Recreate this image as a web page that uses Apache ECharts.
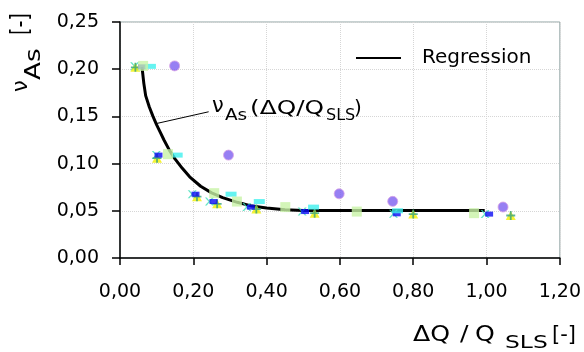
<!DOCTYPE html>
<html><head><meta charset="utf-8">
<script src="https://cdn.jsdelivr.net/npm/echarts@6/dist/echarts.min.js"></script>
<style>html,body{margin:0;padding:0;background:#fff}#c{width:584px;height:352px}</style>
</head><body><div id="c"></div>
<script>
// ---- data ----
const xTickLabels = ['0,00','0,20','0,40','0,60','0,80','1,00','1,20'];
const yTickLabels = ['0,00','0,05','0,10','0,15','0,20','0,25'];

const regressionX = [0.06, 0.065, 0.07, 0.08, 0.09, 0.10, 0.11, 0.12, 0.135, 0.15, 0.17, 0.19, 0.22, 0.25, 0.28, 0.32, 0.36, 0.40, 0.45, 0.50, 0.995];
const regressionY = [0.2025, 0.185, 0.172, 0.160, 0.150, 0.141, 0.133, 0.125, 0.114, 0.105, 0.095, 0.086, 0.076, 0.069, 0.064, 0.059, 0.055, 0.053, 0.051, 0.0503, 0.0503];

const purpleX = [0.149, 0.296, 0.598, 0.744, 1.045];
const purpleY = [0.2035, 0.109, 0.068, 0.060, 0.054];

const greenX = [0.063, 0.131, 0.257, 0.319, 0.451, 0.646, 0.966];
const greenY = [0.2035, 0.110, 0.0687, 0.0598, 0.0539, 0.0492, 0.0475];

const cyanX = [0.083, 0.156, 0.303, 0.380, 0.528, 0.757];
const cyanY = [0.203, 0.109, 0.0676, 0.0598, 0.0539, 0.050];

const blueX = [0.060, 0.105, 0.206, 0.255, 0.357, 0.505, 0.755, 1.007];
const blueY = [0.2025, 0.109, 0.0676, 0.0598, 0.0539, 0.0492, 0.0468, 0.0465];

const yellowX = [0.042, 0.101, 0.210, 0.265, 0.372, 0.531, 0.800, 1.066];
const yellowY = [0.202, 0.1057, 0.065, 0.0574, 0.0518, 0.0475, 0.0465, 0.045];

const crossX = [0.040, 0.099, 0.197, 0.244, 0.346, 0.497, 0.746, 0.996];
const crossY = [0.203, 0.109, 0.0676, 0.0598, 0.0539, 0.0492, 0.0468, 0.0465];

const leaderLine = [[0.1013, 0.1426], [0.2419, 0.1549]];

// ---- helpers ----
const zip = (xs, ys) => xs.map((x, i) => [x, ys[i]]);
const FF = 'DejaVu Sans';
function T(text, x, y, fs, o) {
  o = o || {};
  return {
    type: 'text', x: x, y: y, rotation: o.rot || 0, scaleX: o.sx || 1, scaleY: 1, z: 100,
    style: { text: text, fill: '#000', fontFamily: FF, fontSize: fs,
      align: 'left', verticalAlign: 'middle', textAlign: 'left', textVerticalAlign: 'middle' }
  };
}
const ROT = Math.PI / 2;
const PLUS = 'path://M4,0H6V4H10V6H6V10H4V6H0V4H4Z';
const XMARK = 'path://M0,0L2,0L5,4L8,0L10,0L6,5L10,10L8,10L5,6L2,10L0,10L4,5Z';

const chart = echarts.init(document.getElementById('c'), null, { renderer: 'canvas' });
chart.setOption({
  animation: false,
  backgroundColor: '#fff',
  grid: { left: 120, right: 24, top: 22, bottom: 94, show: true, borderColor: '#8fa3a3', borderWidth: 1 },
  xAxis: {
    type: 'value', min: 0, max: 1.2, interval: 0.2,
    axisLine: { show: true, onZero: false, lineStyle: { color: '#000', width: 1.5 } },
    axisTick: { show: true, inside: false, length: 7, lineStyle: { color: '#000', width: 1.5 } },
    axisLabel: { margin: 25, color: '#000', fontFamily: FF, fontSize: 19,
      formatter: v => xTickLabels[Math.round(v / 0.2)] },
    splitLine: { show: true, lineStyle: { color: '#d6d6d6', type: 'dotted', width: 1 } }
  },
  yAxis: {
    type: 'value', min: 0, max: 0.25, interval: 0.05,
    axisLine: { show: true, onZero: false, lineStyle: { color: '#000', width: 1.5 } },
    axisTick: { show: true, inside: false, length: 8, lineStyle: { color: '#000', width: 1.5 } },
    axisLabel: { margin: 21, color: '#000', fontFamily: FF, fontSize: 19,
      formatter: v => yTickLabels[Math.round(v / 0.05)] },
    splitLine: { show: true, lineStyle: { color: '#d6d6d6', type: 'dotted', width: 1 } }
  },
  legend: {
    data: [{ name: 'Regression', icon: 'rect' }], left: 356, top: 48, padding: 0,
    itemWidth: 45, itemHeight: 2,
    itemStyle: { color: '#000' },
    textStyle: { fontFamily: FF, fontSize: 20, color: '#000', padding: [0, 0, 0, 16] }
  },
  series: [
    { name: 'Regression', type: 'line', data: zip(regressionX, regressionY),
      smooth: false, symbol: 'none',
      lineStyle: { color: '#000', width: 3, join: 'round' }, itemStyle: { color: '#000' }, z: 2,
      markLine: { silent: true, symbol: ['none', 'none'], label: { show: false },
        lineStyle: { color: '#000', width: 1, type: 'solid' },
        data: [[{ coord: leaderLine[0] }, { coord: leaderLine[1] }]] } },
    { name: 'cross', type: 'scatter', data: zip(crossX, crossY), symbol: XMARK, symbolSize: [9, 8],
      itemStyle: { color: '#3ddfb8' }, z: 3 },
    { name: 'yellow', type: 'scatter', data: zip(yellowX, yellowY), symbol: 'triangle', symbolSize: [10, 9],
      itemStyle: { color: '#f2f000' }, z: 3 },
    { name: 'plus', type: 'scatter', data: zip(yellowX, yellowY), symbol: PLUS, symbolSize: 9,
      itemStyle: { color: '#36a27c' }, z: 3 },
    { name: 'blue', type: 'scatter', data: zip(blueX, blueY), symbol: 'rect', symbolSize: [8, 5],
      itemStyle: { color: '#0a0af5' }, z: 3 },
    { name: 'cyan', type: 'scatter', data: zip(cyanX, cyanY), symbol: 'rect', symbolSize: [11, 5],
      itemStyle: { color: '#3ef0ee' }, z: 3 },
    { name: 'green', type: 'scatter', data: zip(greenX, greenY), symbol: 'rect', symbolSize: 10,
      itemStyle: { color: '#c8f2a6' }, z: 3 },
    { name: 'purple', type: 'scatter', data: zip(purpleX, purpleY), symbol: 'circle', symbolSize: 10,
      itemStyle: { color: '#7d5ff0', borderColor: '#d9a3e6', borderWidth: 1 }, z: 3 }
  ],
  graphic: [
    // y axis title  ν_As [-]
    T('ν', 21.7, 92, 21, { rot: ROT }),
    T('As', 34.7, 80, 21, { rot: ROT, sx: 1.25 }),
    T('[-]', 21.6, 35, 24, { rot: ROT, sx: 0.8 }),
    // x axis title  ΔQ / Q_SLS [-]
    T('ΔQ', 413, 335.7, 21, { sx: 1.2 }),
    T('/', 460, 335.7, 21, { sx: 1.2 }),
    T('Q', 475, 335.7, 21, { sx: 1.2 }),
    T('SLS', 505, 343.8, 18, { sx: 1.3 }),
    T('[-]', 552, 335.7, 21),
    // annotation  ν_As (ΔQ/Q_SLS)
    T('ν', 212, 106.2, 21),
    T('As', 225, 116.2, 16, { sx: 1.15 }),
    T('(ΔQ/Q', 250, 108.5, 20, { sx: 1.24 }),
    T('SLS', 326, 116.2, 16),
    T(')', 354, 108.5, 20)
  ]
});
</script></body></html>
